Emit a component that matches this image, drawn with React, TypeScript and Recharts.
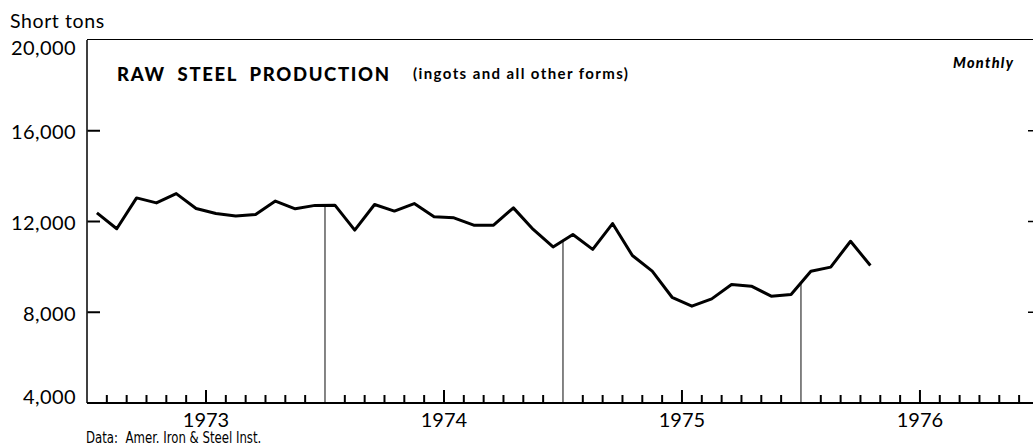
import React from "react";
import { LineChart, Line, XAxis, YAxis, ReferenceLine } from "recharts";

// monthly raw steel production, thousands of short tons (Jan 1973 - Apr 1976)
const prod1973 = [12380, 11680, 13040, 12820, 13230, 12570, 12350, 12240, 12310, 12900, 12560, 12710];
const prod1974 = [12720, 11620, 12750, 12460, 12790, 12210, 12160, 11840, 11840, 12600, 11650, 10880];
const prod1975 = [11430, 10770, 11910, 10500, 9810, 8660, 8270, 8590, 9220, 9150, 8710, 8780];
const prod1976 = [9810, 9990, 11130, 10060];

const years = ["1973", "1974", "1975", "1976"];
const yTicks = [4000, 8000, 12000, 16000, 20000];

const production = [...prod1973, ...prod1974, ...prod1975, ...prod1976];
const data = production.map((v, i) => ({ m: i + 0.5, v }));
const monthTicks = Array.from({ length: 48 }, (_, i) => i);

// year boundaries: line rises from the axis to where the series crosses the boundary
const boundaries = [12, 24, 36].map((b) => ({
  x: b,
  y: (production[b - 1] + production[b]) / 2,
}));

// plot geometry (right frame edge falls just outside the picture)
const CHART_W = 1033;
const CHART_H = 447;
const Y_AXIS_W = 87;
const X_AXIS_H = 44;
const TOP = 40;
const X_END = 47.7;
const Y_MIN = 4000;
const Y_MAX = 20000;
const AXIS_Y = CHART_H - X_AXIS_H;
const monthPx = (CHART_W - Y_AXIS_W) / X_END;
const unitPerPx = (Y_MAX - Y_MIN) / (AXIS_Y - TOP);

const FONT = "Lato, 'Open Sans', sans-serif";
const INK = "#000";

function YearTick(props: any) {
  const { x, payload } = props;
  const m = payload.value as number;
  if (m % 12 !== 6) return <g />;
  return (
    <text x={x} y={AXIS_Y + 24} textAnchor="middle" fontSize={20} fontFamily={FONT} fill={INK}>
      {years[Math.floor(m / 12)]}
    </text>
  );
}

function LeftTick(props: any) {
  const { y, payload } = props;
  const v = payload.value as number;
  let dy = 8.5;
  if (v === Y_MAX) dy = 14.5;
  if (v === Y_MIN) dy = 0.5;
  return (
    <text
      x={Y_AXIS_W - 11}
      y={y + dy}
      textAnchor="end"
      fontSize={20}
      fontFamily={FONT}
      fill={INK}
      letterSpacing={0.4}
    >
      {v.toLocaleString("en-US")}
    </text>
  );
}

// html label placed by its baseline
function Label({
  x,
  base,
  size,
  lift = 0.887,
  children,
  style,
}: {
  x: number;
  base: number;
  size: number;
  lift?: number;
  children: React.ReactNode;
  style?: React.CSSProperties;
}) {
  return (
    <div
      style={{
        position: "absolute",
        left: x,
        top: base - lift * size,
        fontSize: size,
        lineHeight: 1,
        fontFamily: FONT,
        color: INK,
        whiteSpace: "pre",
        transformOrigin: "0 0",
        ...style,
      }}
    >
      {children}
    </div>
  );
}

export default function App() {
  const innerY = yTicks.filter((v) => v !== Y_MIN && v !== Y_MAX);
  const tickX = monthTicks.filter((m) => m % 12 !== 0);
  return (
    <div style={{ position: "absolute", left: 0, top: 0, width: 1033, height: 447, background: "#fff" }}>
      <LineChart
        width={CHART_W}
        height={CHART_H}
        data={data}
        margin={{ top: TOP, right: 0, bottom: 0, left: 0 }}
      >
        <XAxis
          dataKey="m"
          type="number"
          domain={[0, X_END]}
          ticks={monthTicks}
          interval={0}
          minTickGap={0}
          height={X_AXIS_H}
          tickSize={0}
          tickMargin={0}
          tickLine={false}
          tick={<YearTick />}
          axisLine={{ stroke: INK, strokeWidth: 2 }}
        />
        <YAxis
          type="number"
          domain={[Y_MIN, Y_MAX]}
          ticks={yTicks}
          interval={0}
          minTickGap={0}
          width={Y_AXIS_W}
          tickSize={0}
          tickMargin={0}
          tickLine={false}
          tick={<LeftTick />}
          axisLine={{ stroke: INK, strokeWidth: 1.5 }}
        />
        {tickX.map((m) => (
          <ReferenceLine
            key={"mt" + m}
            ifOverflow="visible"
            segment={[
              { x: m, y: Y_MIN },
              { x: m, y: Y_MIN + (m % 12 === 6 ? 13 : 8) * unitPerPx },
            ]}
            stroke={INK}
            strokeWidth={2}
          />
        ))}
        {innerY.map((v) => (
          <ReferenceLine
            key={"lt" + v}
            ifOverflow="visible"
            segment={[
              { x: 0.02, y: v },
              { x: 13 / monthPx, y: v },
            ]}
            stroke={INK}
            strokeWidth={2}
          />
        ))}
        {innerY.map((v) => (
          <ReferenceLine
            key={"rt" + v}
            ifOverflow="visible"
            segment={[
              { x: X_END - 5 / monthPx, y: v },
              { x: X_END, y: v },
            ]}
            stroke={INK}
            strokeWidth={1.5}
          />
        ))}
        {boundaries.map((b) => (
          <ReferenceLine
            key={"yb" + b.x}
            ifOverflow="visible"
            segment={[
              { x: b.x, y: Y_MIN },
              { x: b.x, y: b.y },
            ]}
            stroke="#333"
            strokeWidth={1.2}
          />
        ))}
        <Line
          type="linear"
          dataKey="v"
          stroke={INK}
          strokeWidth={3}
          strokeLinejoin="round"
          dot={false}
          activeDot={false}
          isAnimationActive={false}
        />
      </LineChart>
      {/* top frame edge */}
      <div
        style={{
          position: "absolute",
          left: Y_AXIS_W,
          top: TOP - 1,
          width: CHART_W - Y_AXIS_W,
          height: 0,
          borderTop: `1.5px solid ${INK}`,
        }}
      />
      <Label x={10} base={28} size={19.5} style={{ letterSpacing: 0.6 }}>
        Short tons
      </Label>
      <Label
        x={117}
        base={81}
        size={18.5}
        style={{ fontWeight: 900, letterSpacing: 1.65, wordSpacing: 6 }}
      >
        RAW STEEL PRODUCTION
      </Label>
      <Label x={413} base={79} size={15} style={{ fontWeight: 700, letterSpacing: 1.4 }}>
        (ingots and all other forms)
      </Label>
      <Label
        x={953}
        base={68.5}
        size={14.5}
        style={{ fontWeight: 900, fontStyle: "italic", letterSpacing: 1.3 }}
      >
        Monthly
      </Label>
      <Label
        x={86}
        base={443}
        size={15}
        lift={0.75}
        style={{
          fontFamily: "'Liberation Sans Narrow', 'DejaVu Sans Condensed', sans-serif",
          lineHeight: 0.8,
          transform: "scaleX(0.87)",
        }}
      >
        Data:  Amer. Iron &amp; Steel Inst.
      </Label>
    </div>
  );
}
